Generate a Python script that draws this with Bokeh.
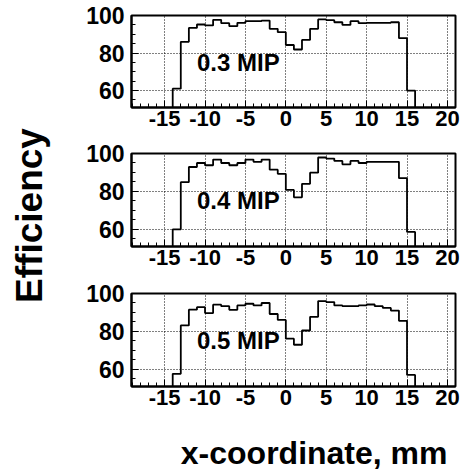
import numpy as np
from bokeh.plotting import figure
from bokeh.layouts import row, column
from bokeh.models import Range1d, SingleIntervalTicker, Label, CustomJSTickFormatter
from bokeh.embed import file_html
from bokeh.resources import INLINE

# ---- data ----
bin_edges = [-14, -13, -12, -11, -10, -9, -8, -7, -6, -5, -4, -3, -2, -1, 0,
             1, 2, 3, 4, 5, 6, 7, 8, 9, 10, 11, 12, 13, 14, 15, 16]
eff_03 = [61, 86, 93.4, 95.2, 94.7, 97.7, 95.9, 94.3, 96.1, 97, 97, 97.3, 92.9, 91.1, 84.3,
          81.9, 87, 92.9, 97.9, 97.5, 96.4, 95, 97, 95.9, 96.1, 96.1, 96.1, 96.4, 87.9, 60]
eff_04 = [60, 84.9, 92.9, 95, 93.8, 96.8, 95, 93.8, 95, 96.8, 95.6, 96.8, 91.5, 89.3, 80.8,
          76.9, 84, 89.9, 97.9, 97.3, 96.1, 94.3, 96.1, 95, 95.6, 95.6, 95.6, 95.6, 87, 58.7]
eff_05 = [57.7, 83.2, 91.5, 92.8, 89.7, 94.1, 93.3, 91.4, 93.7, 94.6, 93.7, 95, 89.2, 86.1, 76.2,
          73, 80.5, 87.7, 96, 95.5, 93.7, 93.3, 93.3, 93.7, 94.2, 93.3, 92.4, 91, 85.6, 57.1]
panel_labels = ["0.3 MIP", "0.4 MIP", "0.5 MIP"]
series = [eff_03, eff_04, eff_05]
x_title = "x-coordinate, mm"
y_title = "Efficiency"

X_RANGE = (-19.1, 21.0)
Y_RANGE = (51.0, 100.0)
FONT = "Liberation Sans"


def make_panel(vals, label, height, top, bottom):
    p = figure(width=403, height=height, output_backend="svg", toolbar_location=None,
               x_range=Range1d(*X_RANGE), y_range=Range1d(*Y_RANGE),
               min_border_left=71, min_border_right=8,
               min_border_top=top, min_border_bottom=bottom)
    p.background_fill_color = "white"
    p.border_fill_color = "white"
    p.outline_line_color = "black"
    p.outline_line_width = 2

    p.xaxis.ticker = SingleIntervalTicker(interval=5, num_minor_ticks=5)
    p.yaxis.ticker = SingleIntervalTicker(interval=20, num_minor_ticks=4)
    for ax in (p.xaxis, p.yaxis):
        ax.major_tick_out = 0
        ax.major_tick_in = 7
        ax.minor_tick_out = 0
        ax.minor_tick_in = 4
        ax.major_tick_line_color = "black"
        ax.minor_tick_line_color = "black"
        ax.axis_line_color = "black"
        ax.axis_line_width = 2
        ax.major_label_text_font = FONT
        ax.major_label_text_font_style = "bold"
        ax.major_label_text_color = "black"
        ax.formatter = CustomJSTickFormatter(code="return tick.toFixed(0);")
    p.xaxis.major_label_text_font_size = "22px"
    p.xaxis.major_label_standoff = 3
    p.yaxis.major_label_text_font_size = "23px"
    p.yaxis.major_label_standoff = 7

    p.xgrid.ticker = SingleIntervalTicker(interval=5)
    p.ygrid.ticker = SingleIntervalTicker(interval=20)
    for g in (p.xgrid, p.ygrid):
        g.grid_line_color = "black"
        g.grid_line_alpha = 1.0
        g.grid_line_dash = "1 2"
        g.grid_line_width = 1

    edges = np.array(bin_edges, dtype=float)
    v = np.array(vals, dtype=float)
    base = Y_RANGE[0]
    xs = np.repeat(edges, 2)
    ys = np.concatenate([[base], np.repeat(v, 2), [base]])
    p.line(xs, ys, line_color="black", line_width=1.8)

    p.add_layout(Label(x=-11.0, y=75.0, text=label, text_font=FONT,
                       text_font_style="bold", text_font_size="24px",
                       text_align="left", text_baseline="middle", text_color="black"))
    return p


def blank(width, height):
    f = figure(width=width, height=height, output_backend="svg", toolbar_location=None,
               x_range=Range1d(0, 1), y_range=Range1d(0, 1),
               min_border=0, x_axis_location=None, y_axis_location=None)
    f.outline_line_color = None
    f.xgrid.visible = False
    f.ygrid.visible = False
    return f


p1 = make_panel(series[0], panel_labels[0], 140, 15, 33)
p2 = make_panel(series[1], panel_labels[1], 140, 13, 34)
p3 = make_panel(series[2], panel_labels[2], 140, 13, 34)

# the column aligns this frame with the panels' frames (left edge at page x=131)
bottom = blank(403, 49)
bottom.add_layout(Label(x=316, y=17, x_units="screen", y_units="screen", text=x_title,
                        text_font=FONT, text_font_style="bold", text_font_size="32px",
                        text_align="right", text_baseline="middle", text_color="black"))

left = blank(60, 469)
left.add_layout(Label(x=29, y=254, x_units="screen", y_units="screen", text=y_title,
                      angle=np.pi / 2, text_font=FONT, text_font_style="bold",
                      text_font_size="37px", text_align="center", text_baseline="middle",
                      text_color="black"))

layout = row(left, column(p1, p2, p3, bottom, spacing=0), spacing=0)
open("out.html", "w").write(file_html(layout, INLINE))
